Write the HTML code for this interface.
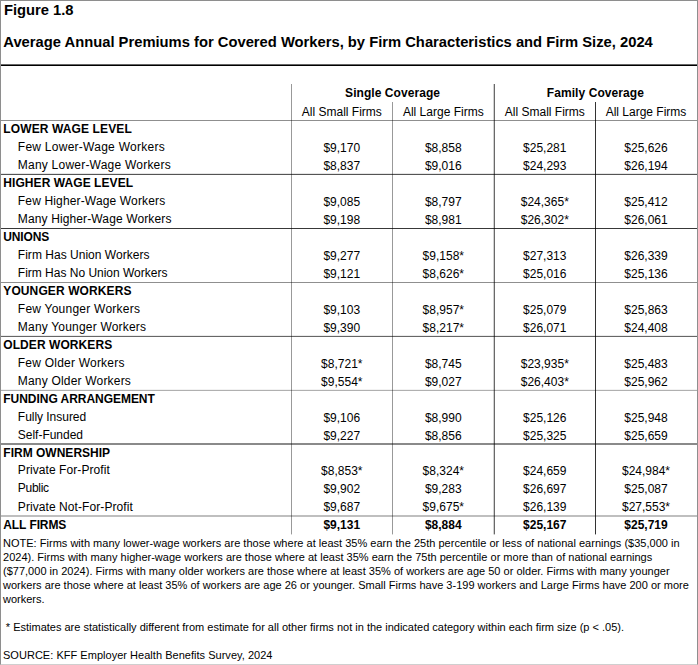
<!DOCTYPE html>
<html><head><meta charset="utf-8"><style>
html,body{margin:0;padding:0;background:#fff}
#c{position:relative;width:698px;height:665px;overflow:hidden;background:#fff;font-family:"Liberation Sans", sans-serif;color:#000}
#c div{position:absolute;white-space:nowrap}
</style></head><body><div id="c">
<div style="left:0;top:0;width:698px;height:665px;box-sizing:border-box;border:1px solid #8e8e8e;border-bottom-color:#cfcfcf"></div>
<div style="top:2px;font-size:14.75px;line-height:17px;left:3.90px;font-weight:bold;">Figure 1.8</div>
<div style="top:34px;font-size:14.75px;line-height:17px;left:3.30px;font-weight:bold;">Average Annual Premiums for Covered Workers, by Firm Characteristics and Firm Size, 2024</div>
<div style="top:86px;font-size:12px;line-height:14px;left:292.58px;width:200px;text-align:center;font-weight:bold;letter-spacing:0.06px;">Single Coverage</div>
<div style="top:86px;font-size:12px;line-height:14px;left:495.43px;width:200px;text-align:center;font-weight:bold;letter-spacing:0.08px;">Family Coverage</div>
<div style="top:105px;font-size:12px;line-height:14px;left:241.80px;width:200px;text-align:center;">All Small Firms</div>
<div style="top:105px;font-size:12px;line-height:14px;left:343.30px;width:200px;text-align:center;">All Large Firms</div>
<div style="top:105px;font-size:12px;line-height:14px;left:444.80px;width:200px;text-align:center;">All Small Firms</div>
<div style="top:105px;font-size:12px;line-height:14px;left:546.00px;width:200px;text-align:center;">All Large Firms</div>
<div style="top:122px;font-size:12px;line-height:14px;left:3.30px;font-weight:bold;letter-spacing:0.12px;">LOWER WAGE LEVEL</div>
<div style="top:140px;font-size:12px;line-height:14px;left:17.83px;letter-spacing:0.259px;">Few Lower-Wage Workers</div>
<div style="top:141px;font-size:12px;line-height:14px;left:241.80px;width:200px;text-align:center;">$9,170</div>
<div style="top:141px;font-size:12px;line-height:14px;left:343.30px;width:200px;text-align:center;">$8,858</div>
<div style="top:141px;font-size:12px;line-height:14px;left:444.80px;width:200px;text-align:center;">$25,281</div>
<div style="top:141px;font-size:12px;line-height:14px;left:546.00px;width:200px;text-align:center;">$25,626</div>
<div style="top:158px;font-size:12px;line-height:14px;left:17.83px;letter-spacing:0.221px;">Many Lower-Wage Workers</div>
<div style="top:159px;font-size:12px;line-height:14px;left:241.80px;width:200px;text-align:center;">$8,837</div>
<div style="top:159px;font-size:12px;line-height:14px;left:343.30px;width:200px;text-align:center;">$9,016</div>
<div style="top:159px;font-size:12px;line-height:14px;left:444.80px;width:200px;text-align:center;">$24,293</div>
<div style="top:159px;font-size:12px;line-height:14px;left:546.00px;width:200px;text-align:center;">$26,194</div>
<div style="top:176px;font-size:12px;line-height:14px;left:3.30px;font-weight:bold;letter-spacing:0.068px;">HIGHER WAGE LEVEL</div>
<div style="top:194px;font-size:12px;line-height:14px;left:17.83px;letter-spacing:0.153px;">Few Higher-Wage Workers</div>
<div style="top:195px;font-size:12px;line-height:14px;left:241.80px;width:200px;text-align:center;">$9,085</div>
<div style="top:195px;font-size:12px;line-height:14px;left:343.30px;width:200px;text-align:center;">$8,797</div>
<div style="top:195px;font-size:12px;line-height:14px;left:444.80px;width:200px;text-align:center;">$24,365*</div>
<div style="top:195px;font-size:12px;line-height:14px;left:546.00px;width:200px;text-align:center;">$25,412</div>
<div style="top:212px;font-size:12px;line-height:14px;left:17.83px;letter-spacing:0.125px;">Many Higher-Wage Workers</div>
<div style="top:213px;font-size:12px;line-height:14px;left:241.80px;width:200px;text-align:center;">$9,198</div>
<div style="top:213px;font-size:12px;line-height:14px;left:343.30px;width:200px;text-align:center;">$8,981</div>
<div style="top:213px;font-size:12px;line-height:14px;left:444.80px;width:200px;text-align:center;">$26,302*</div>
<div style="top:213px;font-size:12px;line-height:14px;left:546.00px;width:200px;text-align:center;">$26,061</div>
<div style="top:230px;font-size:12px;line-height:14px;left:3.30px;font-weight:bold;letter-spacing:-0.161px;">UNIONS</div>
<div style="top:248px;font-size:12px;line-height:14px;left:17.83px;letter-spacing:0.022px;">Firm Has Union Workers</div>
<div style="top:249px;font-size:12px;line-height:14px;left:241.80px;width:200px;text-align:center;">$9,277</div>
<div style="top:249px;font-size:12px;line-height:14px;left:343.30px;width:200px;text-align:center;">$9,158*</div>
<div style="top:249px;font-size:12px;line-height:14px;left:444.80px;width:200px;text-align:center;">$27,313</div>
<div style="top:249px;font-size:12px;line-height:14px;left:546.00px;width:200px;text-align:center;">$26,339</div>
<div style="top:266px;font-size:12px;line-height:14px;left:17.83px;letter-spacing:-0.009px;">Firm Has No Union Workers</div>
<div style="top:267px;font-size:12px;line-height:14px;left:241.80px;width:200px;text-align:center;">$9,121</div>
<div style="top:267px;font-size:12px;line-height:14px;left:343.30px;width:200px;text-align:center;">$8,626*</div>
<div style="top:267px;font-size:12px;line-height:14px;left:444.80px;width:200px;text-align:center;">$25,016</div>
<div style="top:267px;font-size:12px;line-height:14px;left:546.00px;width:200px;text-align:center;">$25,136</div>
<div style="top:284px;font-size:12px;line-height:14px;left:3.30px;font-weight:bold;letter-spacing:0.106px;">YOUNGER WORKERS</div>
<div style="top:302px;font-size:12px;line-height:14px;left:17.83px;letter-spacing:0.237px;">Few Younger Workers</div>
<div style="top:303px;font-size:12px;line-height:14px;left:241.80px;width:200px;text-align:center;">$9,103</div>
<div style="top:303px;font-size:12px;line-height:14px;left:343.30px;width:200px;text-align:center;">$8,957*</div>
<div style="top:303px;font-size:12px;line-height:14px;left:444.80px;width:200px;text-align:center;">$25,079</div>
<div style="top:303px;font-size:12px;line-height:14px;left:546.00px;width:200px;text-align:center;">$25,863</div>
<div style="top:320px;font-size:12px;line-height:14px;left:17.83px;letter-spacing:0.194px;">Many Younger Workers</div>
<div style="top:321px;font-size:12px;line-height:14px;left:241.80px;width:200px;text-align:center;">$9,390</div>
<div style="top:321px;font-size:12px;line-height:14px;left:343.30px;width:200px;text-align:center;">$8,217*</div>
<div style="top:321px;font-size:12px;line-height:14px;left:444.80px;width:200px;text-align:center;">$26,071</div>
<div style="top:321px;font-size:12px;line-height:14px;left:546.00px;width:200px;text-align:center;">$24,408</div>
<div style="top:338px;font-size:12px;line-height:14px;left:3.30px;font-weight:bold;letter-spacing:0.072px;">OLDER WORKERS</div>
<div style="top:356px;font-size:12px;line-height:14px;left:17.83px;letter-spacing:0.216px;">Few Older Workers</div>
<div style="top:357px;font-size:12px;line-height:14px;left:241.80px;width:200px;text-align:center;">$8,721*</div>
<div style="top:357px;font-size:12px;line-height:14px;left:343.30px;width:200px;text-align:center;">$8,745</div>
<div style="top:357px;font-size:12px;line-height:14px;left:444.80px;width:200px;text-align:center;">$23,935*</div>
<div style="top:357px;font-size:12px;line-height:14px;left:546.00px;width:200px;text-align:center;">$25,483</div>
<div style="top:374px;font-size:12px;line-height:14px;left:17.83px;letter-spacing:0.188px;">Many Older Workers</div>
<div style="top:375px;font-size:12px;line-height:14px;left:241.80px;width:200px;text-align:center;">$9,554*</div>
<div style="top:375px;font-size:12px;line-height:14px;left:343.30px;width:200px;text-align:center;">$9,027</div>
<div style="top:375px;font-size:12px;line-height:14px;left:444.80px;width:200px;text-align:center;">$26,403*</div>
<div style="top:375px;font-size:12px;line-height:14px;left:546.00px;width:200px;text-align:center;">$25,962</div>
<div style="top:392px;font-size:12px;line-height:14px;left:3.30px;font-weight:bold;letter-spacing:-0.038px;">FUNDING ARRANGEMENT</div>
<div style="top:410px;font-size:12px;line-height:14px;left:17.83px;letter-spacing:-0.03px;">Fully Insured</div>
<div style="top:411px;font-size:12px;line-height:14px;left:241.80px;width:200px;text-align:center;">$9,106</div>
<div style="top:411px;font-size:12px;line-height:14px;left:343.30px;width:200px;text-align:center;">$8,990</div>
<div style="top:411px;font-size:12px;line-height:14px;left:444.80px;width:200px;text-align:center;">$25,126</div>
<div style="top:411px;font-size:12px;line-height:14px;left:546.00px;width:200px;text-align:center;">$25,948</div>
<div style="top:428px;font-size:12px;line-height:14px;left:17.83px;letter-spacing:-0.023px;">Self-Funded</div>
<div style="top:429px;font-size:12px;line-height:14px;left:241.80px;width:200px;text-align:center;">$9,227</div>
<div style="top:429px;font-size:12px;line-height:14px;left:343.30px;width:200px;text-align:center;">$8,856</div>
<div style="top:429px;font-size:12px;line-height:14px;left:444.80px;width:200px;text-align:center;">$25,325</div>
<div style="top:429px;font-size:12px;line-height:14px;left:546.00px;width:200px;text-align:center;">$25,659</div>
<div style="top:446px;font-size:12px;line-height:14px;left:3.30px;font-weight:bold;letter-spacing:0.011px;">FIRM OWNERSHIP</div>
<div style="top:463px;font-size:12px;line-height:14px;left:17.83px;letter-spacing:0.075px;">Private For-Profit</div>
<div style="top:464px;font-size:12px;line-height:14px;left:241.80px;width:200px;text-align:center;">$8,853*</div>
<div style="top:464px;font-size:12px;line-height:14px;left:343.30px;width:200px;text-align:center;">$8,324*</div>
<div style="top:464px;font-size:12px;line-height:14px;left:444.80px;width:200px;text-align:center;">$24,659</div>
<div style="top:464px;font-size:12px;line-height:14px;left:546.00px;width:200px;text-align:center;">$24,984*</div>
<div style="top:481px;font-size:12px;line-height:14px;left:17.83px;letter-spacing:-0.3px;">Public</div>
<div style="top:482px;font-size:12px;line-height:14px;left:241.80px;width:200px;text-align:center;">$9,902</div>
<div style="top:482px;font-size:12px;line-height:14px;left:343.30px;width:200px;text-align:center;">$9,283</div>
<div style="top:482px;font-size:12px;line-height:14px;left:444.80px;width:200px;text-align:center;">$26,697</div>
<div style="top:482px;font-size:12px;line-height:14px;left:546.00px;width:200px;text-align:center;">$25,087</div>
<div style="top:500px;font-size:12px;line-height:14px;left:17.83px;letter-spacing:0.076px;">Private Not-For-Profit</div>
<div style="top:500px;font-size:12px;line-height:14px;left:241.80px;width:200px;text-align:center;">$9,687</div>
<div style="top:500px;font-size:12px;line-height:14px;left:343.30px;width:200px;text-align:center;">$9,675*</div>
<div style="top:500px;font-size:12px;line-height:14px;left:444.80px;width:200px;text-align:center;">$26,139</div>
<div style="top:500px;font-size:12px;line-height:14px;left:546.00px;width:200px;text-align:center;">$27,553*</div>
<div style="top:518px;font-size:12px;line-height:14px;left:3.30px;font-weight:bold;letter-spacing:-0.089px;">ALL FIRMS</div>
<div style="top:518px;font-size:12px;line-height:14px;left:241.80px;width:200px;text-align:center;font-weight:bold;">$9,131</div>
<div style="top:518px;font-size:12px;line-height:14px;left:343.30px;width:200px;text-align:center;font-weight:bold;">$8,884</div>
<div style="top:518px;font-size:12px;line-height:14px;left:444.80px;width:200px;text-align:center;font-weight:bold;">$25,167</div>
<div style="top:518px;font-size:12px;line-height:14px;left:546.00px;width:200px;text-align:center;font-weight:bold;">$25,719</div>
<div style="left:1px;top:120px;width:696px;height:1px;background:rgba(0,0,0,0.44)"></div>
<div style="left:1px;top:173px;width:696px;height:1px;background:rgba(0,0,0,0.1)"></div>
<div style="left:1px;top:174px;width:696px;height:1px;background:rgba(0,0,0,0.67)"></div>
<div style="left:1px;top:228px;width:696px;height:1px;background:rgba(0,0,0,0.78)"></div>
<div style="left:1px;top:282px;width:696px;height:1px;background:rgba(0,0,0,0.44)"></div>
<div style="left:1px;top:335px;width:696px;height:1px;background:rgba(0,0,0,0.08)"></div>
<div style="left:1px;top:336px;width:696px;height:1px;background:rgba(0,0,0,0.6)"></div>
<div style="left:1px;top:389px;width:696px;height:1px;background:rgba(0,0,0,0.05)"></div>
<div style="left:1px;top:390px;width:696px;height:1px;background:rgba(0,0,0,0.31)"></div>
<div style="left:1px;top:443px;width:696px;height:1px;background:rgba(0,0,0,0.46)"></div>
<div style="left:1px;top:444px;width:696px;height:1px;background:rgba(0,0,0,0.46)"></div>
<div style="left:1px;top:515px;width:696px;height:1px;background:rgba(0,0,0,0.25)"></div>
<div style="left:1px;top:516px;width:696px;height:1px;background:rgba(0,0,0,0.25)"></div>
<div style="left:291px;top:84px;width:1px;height:450px;background:rgba(0,0,0,0.4)"></div>
<div style="left:291px;top:534px;width:1px;height:1px;background:rgba(0,0,0,0.16)"></div>
<div style="left:392px;top:102px;width:1px;height:432px;background:rgba(0,0,0,0.4)"></div>
<div style="left:392px;top:534px;width:1px;height:1px;background:rgba(0,0,0,0.16)"></div>
<div style="left:493px;top:84px;width:1px;height:450px;background:rgba(0,0,0,0.18)"></div>
<div style="left:493px;top:534px;width:1px;height:1px;background:rgba(0,0,0,0.072)"></div>
<div style="left:494px;top:84px;width:1px;height:450px;background:rgba(0,0,0,0.59)"></div>
<div style="left:494px;top:534px;width:1px;height:1px;background:rgba(0,0,0,0.236)"></div>
<div style="left:595px;top:102px;width:1px;height:432px;background:rgba(0,0,0,0.8)"></div>
<div style="left:595px;top:534px;width:1px;height:1px;background:rgba(0,0,0,0.32)"></div>
<div style="left:1px;top:64px;width:696px;height:1px;background:rgba(0,0,0,0.6)"></div>
<div style="left:1px;top:65px;width:696px;height:1px;background:#000"></div>
<div style="top:537px;font-size:11px;line-height:13px;left:3.00px;letter-spacing:0.0165px;">NOTE: Firms with many lower-wage workers are those where at least 35% earn the 25th percentile or less of national earnings ($35,000 in</div>
<div style="top:551px;font-size:11px;line-height:13px;left:3.00px;letter-spacing:0.0085px;">2024). Firms with many higher-wage workers are those where at least 35% earn the 75th percentile or more than of national earnings</div>
<div style="top:565px;font-size:11px;line-height:13px;left:3.00px;letter-spacing:0.0104px;">($77,000 in 2024). Firms with many older workers are those where at least 35% of workers are age 50 or older. Firms with many younger</div>
<div style="top:579px;font-size:11px;line-height:13px;left:3.00px;letter-spacing:0.0082px;">workers are those where at least 35% of workers are age 26 or younger. Small Firms have 3-199 workers and Large Firms have 200 or more</div>
<div style="top:593px;font-size:11px;line-height:13px;left:3.00px;">workers.</div>
<div style="top:621px;font-size:11px;line-height:13px;left:5.80px;">* Estimates are statistically different from estimate for all other firms not in the indicated category within each firm size (p &lt; .05).</div>
<div style="top:649px;font-size:11px;line-height:13px;left:3.00px;letter-spacing:0.027px;">SOURCE: KFF Employer Health Benefits Survey, 2024</div>
</div></body></html>
